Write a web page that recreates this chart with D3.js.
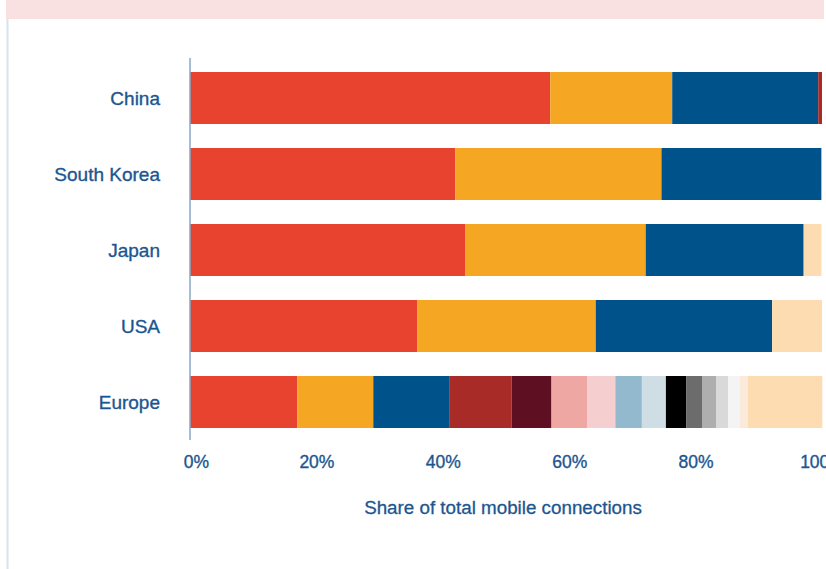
<!DOCTYPE html>
<html>
<head>
<meta charset="utf-8">
<script src="https://cdn.jsdelivr.net/npm/d3@7"></script>
<style>
  html, body { margin: 0; padding: 0; background: #fff; }
  svg { display: block; }
  text { font-family: "Liberation Sans", Arial, sans-serif; }
</style>
</head>
<body>
<svg id="chart" width="826" height="569"></svg>
<script>
// ---- Data ----
const categories = ["China", "South Korea", "Japan", "USA", "Europe"];
// share (%) per category, in category order
const operator1  = [57.0, 42.0, 43.6, 36.0, 17.0];
const operator2  = [19.3, 32.6, 28.5, 28.2, 12.0];
const operator3  = [23.1, 25.3, 25.0, 27.9, 12.0];
const operator4  = [0.6, 0, 0, 0, 9.9];
const operator5  = [0, 0, 0, 0, 6.3];
const operator6  = [0, 0, 0, 0, 5.7];
const operator7  = [0, 0, 0, 0, 4.4];
const operator8  = [0, 0, 0, 0, 4.2];
const operator9  = [0, 0, 0, 0, 3.8];
const operator10 = [0, 0, 0, 0, 3.2];
const operator11 = [0, 0, 0, 0, 2.6];
const operator12 = [0, 0, 0, 0, 2.2];
const operator13 = [0, 0, 0, 0, 1.85];
const operator14 = [0, 0, 0, 0, 1.8];
const operator15 = [0, 0, 0, 0, 1.3];
const others     = [0, 0, 2.8, 7.9, 11.8];
const seriesNames = ["Operator 1","Operator 2","Operator 3","Operator 4","Operator 5","Operator 6","Operator 7","Operator 8","Operator 9","Operator 10","Operator 11","Operator 12","Operator 13","Operator 14","Operator 15","Others"];
const seriesValues = [operator1, operator2, operator3, operator4, operator5, operator6, operator7, operator8, operator9, operator10, operator11, operator12, operator13, operator14, operator15, others];
const seriesColors = ["#E8432F","#F5A623","#00528A","#A92B27","#5E1022","#EFA7A4","#F5CFD0","#93B9CE","#CFDDE5","#000000","#6C6C6C","#AEAEAE","#D9D9D9","#F4F4F4","#FBE9DA","#FDDCB2"];
const tickValues = [0, 20, 40, 60, 80, 100];
const xTitle = "Share of total mobile connections";

// ---- Build table ----
const table = categories.map((c, i) => {
  const row = { category: c };
  seriesNames.forEach((s, j) => row[s] = seriesValues[j][i]);
  return row;
});
const stacked = d3.stack().keys(seriesNames)(table);

// ---- Layout ----
const svg = d3.select("#chart");
const x = d3.scaleLinear().domain([0, 100]).range([190, 822]);
const y = d3.scaleBand().domain(categories).range([60, 440]).paddingInner(0.316).paddingOuter(0.158);
const color = d3.scaleOrdinal().domain(seriesNames).range(seriesColors);
const textColor = "#1C5690";

// header band and left frame line
svg.append("rect").attr("x", 6).attr("y", -2).attr("width", 818).attr("height", 21).attr("fill", "#F9E0E1");
svg.append("line").attr("x1", 7.5).attr("x2", 7.5).attr("y1", 19).attr("y2", 569)
  .attr("stroke", "#D6E3EE").attr("stroke-width", 2);

// bars
svg.append("g").selectAll("g").data(stacked).join("g")
  .attr("fill", d => color(d.key))
  .selectAll("rect").data(d => d.filter(p => p[1] - p[0] > 0).map(p => ({p, cat: p.data.category})))
  .join("rect")
  .attr("x", d => x(d.p[0]))
  .attr("width", d => x(d.p[1]) - x(d.p[0]))
  .attr("y", d => y(d.cat))
  .attr("height", y.bandwidth());

// y axis (line only + labels)
const yAxis = d3.axisLeft(y).tickSize(0).tickPadding(30);
const gy = svg.append("g").attr("transform", "translate(190,0)").call(yAxis);
gy.select(".domain").remove();
gy.append("line").attr("x1", 0).attr("x2", 0).attr("y1", 58).attr("y2", 440)
  .attr("stroke", "#86A9CB").attr("stroke-width", 1.5);
gy.selectAll(".tick text")
  .attr("fill", textColor).attr("stroke", textColor).attr("stroke-width", 0.35)
  .attr("font-size", "19px")
  .attr("font-family", "'Liberation Sans', Arial, sans-serif")
  .attr("dy", "0.35em");

// x axis (labels only)
const xAxis = d3.axisBottom(x).tickValues(tickValues).tickFormat(d => d + "%").tickSize(0).tickPadding(0);
const gx = svg.append("g").attr("transform", "translate(0,468)").call(xAxis);
gx.select(".domain").remove();
gx.selectAll(".tick text")
  .attr("fill", textColor).attr("stroke", textColor).attr("stroke-width", 0.35)
  .attr("font-size", "17.5px")
  .attr("font-family", "'Liberation Sans', Arial, sans-serif")
  .attr("dy", 0)
  .attr("dx", d => d === 0 ? 6 : 0);

// x title
svg.append("text").attr("x", 503).attr("y", 514).attr("text-anchor", "middle")
  .attr("fill", textColor).attr("stroke", textColor).attr("stroke-width", 0.3)
  .attr("font-size", "18.8px").text(xTitle);
</script>
</body>
</html>
